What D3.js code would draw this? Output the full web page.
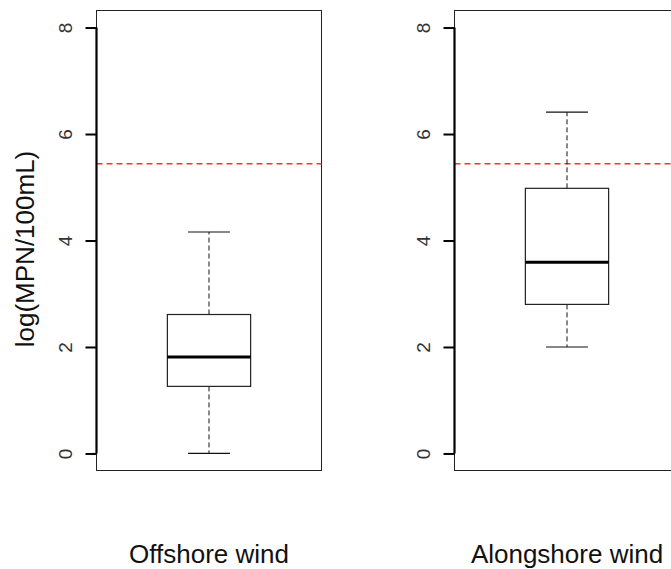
<!DOCTYPE html>
<html><head><meta charset="utf-8">
<script src="https://cdn.jsdelivr.net/npm/d3@7"></script>
<style>body{margin:0;background:#fff}svg{display:block}</style>
</head><body>
<script>
const categories = ["Offshore wind", "Alongshore wind"];
const whiskerLow = [0.00, 2.00];
const q1 = [1.26, 2.80];
const median = [1.81, 3.59];
const q3 = [2.61, 4.98];
const whiskerHigh = [4.16, 6.41];
const threshold = 5.44;
const yTicks = [0, 2, 4, 6, 8];
const yTitle = "log(MPN/100mL)";

const W = 671, H = 569;
const svg = d3.select("body").append("svg").attr("width", W).attr("height", H);

const panels = [{x0: 96.5, x1: 321.5}, {x0: 454.5, x1: 679.5}];
const plotTop = 10.5, plotBottom = 470.5;
const y = d3.scaleLinear().domain([-0.32, 8.32]).range([plotBottom, plotTop]);
const font = "Liberation Sans, Arial, sans-serif";

categories.forEach((cat, i) => {
  const p = panels[i];
  const g = svg.append("g");
  const x = d3.scaleLinear().domain([0.5, 1.5]).range([p.x0, p.x1]);
  const cx = x(1), bw = x(1.185) - x(0.815), cw = x(1.093) - x(0.907);

  g.append("rect").attr("x", p.x0).attr("y", plotTop).attr("width", p.x1 - p.x0).attr("height", plotBottom - plotTop)
    .attr("fill", "none").attr("stroke", "#222").attr("stroke-width", 1);

  g.append("line").attr("x1", p.x0).attr("x2", p.x1).attr("y1", y(threshold)).attr("y2", y(threshold))
    .attr("stroke", "#ff3030").attr("stroke-width", 1.5).attr("stroke-dasharray", "6,4");

  g.append("line").attr("x1", cx).attr("x2", cx).attr("y1", y(q3[i])).attr("y2", y(whiskerHigh[i]))
    .attr("stroke", "#111").attr("stroke-dasharray", "5,3");
  g.append("line").attr("x1", cx).attr("x2", cx).attr("y1", y(q1[i])).attr("y2", y(whiskerLow[i]))
    .attr("stroke", "#111").attr("stroke-dasharray", "5,3");
  [whiskerLow[i], whiskerHigh[i]].forEach(v => {
    g.append("line").attr("x1", cx - cw / 2).attr("x2", cx + cw / 2).attr("y1", y(v)).attr("y2", y(v))
      .attr("stroke", "#111").attr("stroke-width", 1.2);
  });
  g.append("rect").attr("x", cx - bw / 2).attr("width", bw).attr("y", y(q3[i])).attr("height", y(q1[i]) - y(q3[i]))
    .attr("fill", "white").attr("stroke", "#222").attr("stroke-width", 1.2);
  g.append("line").attr("x1", cx - bw / 2).attr("x2", cx + bw / 2).attr("y1", y(median[i])).attr("y2", y(median[i]))
    .attr("stroke", "#000").attr("stroke-width", 3);

  const ax = g.append("g").attr("transform", `translate(${p.x0},0)`)
    .call(d3.axisLeft(y).tickValues(yTicks).tickSize(11).tickSizeOuter(0).tickFormat(d3.format("d")));
  ax.select(".domain").attr("d", `M0,${y(0)}V${y(8)}`).attr("stroke", "#000").attr("stroke-width", 2.2);
  ax.selectAll(".tick line").attr("stroke", "#000").attr("stroke-width", 2);
  ax.selectAll(".tick text")
    .attr("x", null).attr("dy", null)
    .attr("transform", "translate(-25,0) rotate(-90)")
    .attr("text-anchor", "middle")
    .attr("font-family", font)
    .attr("font-size", 19).attr("fill", "#333");

  g.append("text").attr("x", cx).attr("y", 563).attr("text-anchor", "middle")
    .attr("font-family", font).attr("font-size", 26).attr("fill", "#111")
    .text(cat);
});

svg.append("text").attr("transform", `translate(34,249) rotate(-90)`).attr("text-anchor", "middle")
  .attr("font-family", font).attr("font-size", 26).attr("fill", "#111")
  .text(yTitle);
</script>
</body></html>
